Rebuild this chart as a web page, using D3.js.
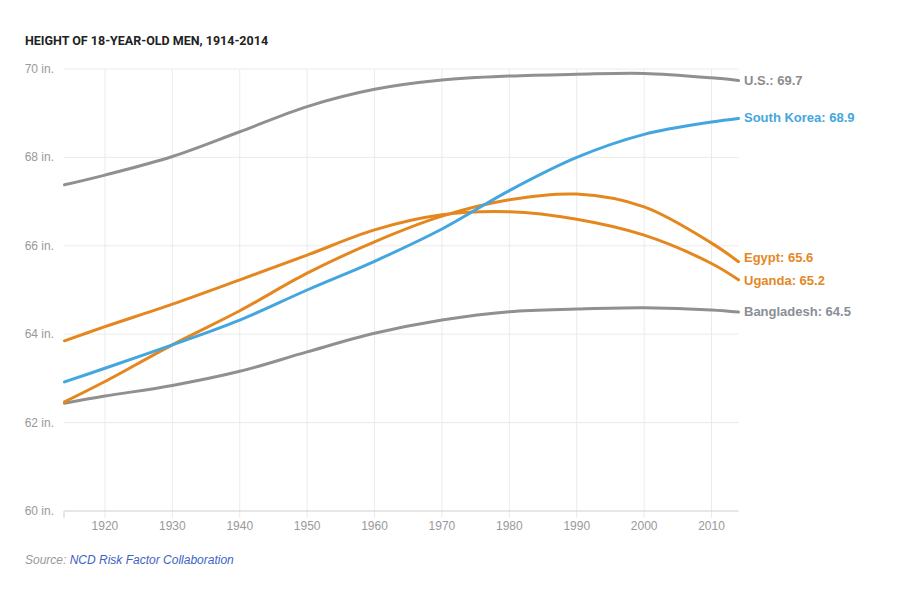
<!DOCTYPE html>
<html>
<head>
<meta charset="utf-8">
<script src="https://cdn.jsdelivr.net/npm/d3@7"></script>
<style>
  body { margin: 0; background: #fff; }
  svg { display: block; }
</style>
</head>
<body>
<svg id="chart" width="900" height="600"></svg>
<script>
// ---- data ----
const years = [1914, 1920, 1930, 1940, 1950, 1960, 1970, 1980, 1990, 2000, 2010, 2014];
const usValues =         [67.38, 67.6, 68.02, 68.58, 69.15, 69.54, 69.75, 69.84, 69.88, 69.9, 69.8, 69.74];
const southKoreaValues = [62.92, 63.23, 63.76, 64.32, 65.0, 65.65, 66.38, 67.25, 68.0, 68.52, 68.8, 68.88];
const egyptValues =      [62.47, 62.93, 63.76, 64.53, 65.38, 66.09, 66.67, 67.04, 67.17, 66.88, 66.06, 65.64];
const ugandaValues =     [63.85, 64.17, 64.68, 65.23, 65.79, 66.36, 66.7, 66.77, 66.6, 66.24, 65.6, 65.23];
const bangladeshValues = [62.44, 62.6, 62.84, 63.16, 63.6, 64.02, 64.32, 64.51, 64.57, 64.6, 64.55, 64.5];
const seriesNames = ["U.S.", "South Korea", "Egypt", "Uganda", "Bangladesh"];
const seriesLabels = ["69.7", "68.9", "65.6", "65.2", "64.5"];
const xTicks = [1920, 1930, 1940, 1950, 1960, 1970, 1980, 1990, 2000, 2010];
const yTicks = [60, 62, 64, 66, 68, 70];
const titleText = "HEIGHT OF 18-YEAR-OLD MEN, 1914-2014";
const sourceLabel = "Source: ";
const sourceName = "NCD Risk Factor Collaboration";

const allValues = [usValues, southKoreaValues, egyptValues, ugandaValues, bangladeshValues];
const colors = ["#909090", "#44a6de", "#e5871f", "#e5871f", "#909090"];
const labelColors = ["#8c8c8c", "#44a6de", "#e5871f", "#e5871f", "#8a8e96"];
const labelOffsets = [0, -1, -4, 0, -1];

const svg = d3.select("#chart");
const font = "'Liberation Sans', Arial, sans-serif";

const x = d3.scaleLinear().domain([1914, 2014]).range([64.5, 738.5]);
const y = d3.scaleLinear().domain([60, 70]).range([511, 69]);

// title
svg.append("text").attr("x", 25).attr("y", 45)
  .attr("font-family", "Roboto, 'Liberation Sans', sans-serif")
  .attr("font-weight", 700).attr("font-size", 12.5).attr("fill", "#222")
  .text(titleText);

// horizontal gridlines
svg.append("g").selectAll("line").data(yTicks.filter(d => d !== 60)).join("line")
  .attr("x1", 64).attr("x2", 738.5)
  .attr("y1", d => y(d)).attr("y2", d => y(d))
  .attr("stroke", "#ebebeb").attr("stroke-width", 1);

// vertical gridlines
svg.append("g").selectAll("line").data(xTicks).join("line")
  .attr("x1", d => x(d)).attr("x2", d => x(d))
  .attr("y1", y(70)).attr("y2", y(60) + 7)
  .attr("stroke", "#ebebeb").attr("stroke-width", 1);

// baseline
svg.append("line").attr("x1", 64).attr("x2", 738.5)
  .attr("y1", y(60)).attr("y2", y(60))
  .attr("stroke", "#cfcfcf").attr("stroke-width", 1);
svg.append("line").attr("x1", 64).attr("x2", 64)
  .attr("y1", y(60)).attr("y2", y(60) + 7)
  .attr("stroke", "#cfcfcf").attr("stroke-width", 1);

// y labels
svg.append("g").selectAll("text").data(yTicks).join("text")
  .attr("x", 54).attr("y", d => y(d) + 4)
  .attr("text-anchor", "end")
  .attr("font-family", font).attr("font-size", 12).attr("fill", "#999")
  .text(d => d + " in.");

// x labels
svg.append("g").selectAll("text").data(xTicks).join("text")
  .attr("x", d => x(d)).attr("y", 530)
  .attr("text-anchor", "middle")
  .attr("font-family", font).attr("font-size", 12).attr("fill", "#999")
  .text(d => d);

// lines
const line = d3.line()
  .x((d, i) => x(years[i]))
  .y(d => y(d))
  .curve(d3.curveCatmullRom.alpha(0.5));

const order = [4, 0, 3, 2, 1];
order.forEach(k => {
  svg.append("path")
    .attr("d", line(allValues[k]))
    .attr("fill", "none")
    .attr("stroke", colors[k])
    .attr("stroke-width", 3)
    .attr("stroke-linecap", "round");
});

// end labels
seriesNames.forEach((name, k) => {
  const vals = allValues[k];
  svg.append("text")
    .attr("x", 744)
    .attr("y", y(vals[vals.length - 1]) + 4.7 + labelOffsets[k])
    .attr("font-family", font).attr("font-weight", 700).attr("font-size", 13)
    .attr("fill", labelColors[k])
    .text(name + ": " + seriesLabels[k]);
});

// source
const src = svg.append("text").attr("x", 25).attr("y", 564)
  .attr("font-family", font).attr("font-size", 12).attr("font-style", "italic");
src.append("tspan").attr("fill", "#999").text(sourceLabel);
src.append("tspan").attr("fill", "#3d62c4").text(sourceName);
</script>
</body>
</html>
